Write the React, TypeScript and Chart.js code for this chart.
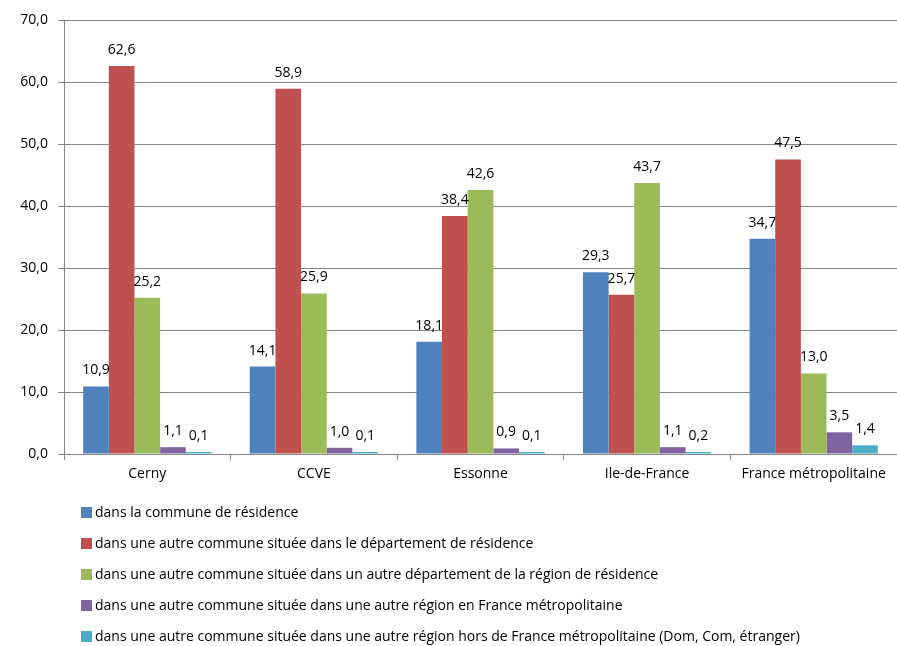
import React, { useEffect, useRef } from "react";
import { Chart, registerables } from "chart.js";

Chart.register(...registerables);

const categories = ["Cerny", "CCVE", "Essonne", "Ile-de-France", "France métropolitaine"];
const seriesLabels = [
  "dans la commune de résidence",
  "dans une autre commune située dans le département de résidence",
  "dans une autre commune située dans un autre département de la région de résidence",
  "dans une autre commune située dans une autre région en France métropolitaine",
  "dans une autre commune située dans une autre région hors de France métropolitaine (Dom, Com, étranger)",
];
const communeResidence = [10.9, 14.1, 18.1, 29.3, 34.7];
const autreCommuneDepartement = [62.6, 58.9, 38.4, 25.7, 47.5];
const autreDepartementRegion = [25.2, 25.9, 42.6, 43.7, 13.0];
const autreRegionFrance = [1.1, 1.0, 0.9, 1.1, 3.5];
const horsFrance = [0.1, 0.1, 0.1, 0.2, 1.4];
const seriesValues = [communeResidence, autreCommuneDepartement, autreDepartementRegion, autreRegionFrance, horsFrance];
const seriesColors = ["#4F81BD", "#C0504D", "#9BBB59", "#8064A2", "#4BACC6"];
const yTicks = [0, 10, 20, 30, 40, 50, 60, 70];

const FONT = "'Open Sans', sans-serif";
const fmt = (v: number) => v.toFixed(1).replace(".", ",");

const valueLabels = {
  id: "valueLabels",
  afterDatasetsDraw(chart: any) {
    const ctx = chart.ctx;
    ctx.save();
    ctx.font = `14px ${FONT}`;
    ctx.fillStyle = "#000";
    ctx.textAlign = "center";
    ctx.textBaseline = "middle";
    chart.data.datasets.forEach((ds: any, i: number) => {
      const meta = chart.getDatasetMeta(i);
      meta.data.forEach((el: any, j: number) => {
        ctx.fillText(fmt(ds.data[j]), el.x, el.y - 16);
      });
    });
    ctx.restore();
  },
};

const verticalLegend = {
  id: "verticalLegend",
  afterDraw(chart: any) {
    const ctx = chart.ctx;
    ctx.save();
    ctx.font = `14px ${FONT}`;
    ctx.textAlign = "left";
    ctx.textBaseline = "middle";
    const startY = 513;
    const step = 31;
    chart.data.datasets.forEach((ds: any, i: number) => {
      const y = startY + i * step;
      ctx.fillStyle = ds.backgroundColor;
      ctx.fillRect(81, y - 6, 11, 11);
      ctx.fillStyle = "#000";
      ctx.fillText(ds.label, 95, y);
    });
    ctx.restore();
  },
};

export default function App() {
  const ref = useRef<HTMLCanvasElement | null>(null);
  useEffect(() => {
    if (!ref.current) return;
    const chart = new Chart(ref.current, {
      type: "bar",
      data: {
        labels: categories,
        datasets: seriesValues.map((vals, i) => ({
          label: seriesLabels[i],
          data: vals,
          backgroundColor: seriesColors[i],
          borderWidth: 0,
          minBarLength: 2,
          categoryPercentage: 0.77,
          barPercentage: 1,
        })),
      },
      options: {
        responsive: false,
        animation: false,
        devicePixelRatio: 1,
        layout: { padding: { top: 20, right: 0, bottom: 141, left: 0 } },
        plugins: {
          legend: { display: false },
          tooltip: { enabled: false },
        },
        scales: {
          x: {
            afterFit: (s: any) => { s.height = 51; },
            grid: {
              offset: true,
              drawOnChartArea: false,
              drawTicks: true,
              tickLength: 6,
              color: "#868686",
            },
            border: { color: "#868686", width: 1 },
            ticks: {
              color: "#000",
              padding: 6,
              font: { family: FONT, size: 14 },
            },
          },
          y: {
            min: 0,
            max: 70,
            afterFit: (s: any) => { s.width = 64; },
            afterBuildTicks: (s: any) => { s.ticks = yTicks.map((v) => ({ value: v })); },
            grid: { color: "#868686", tickLength: 6 },
            border: { color: "#868686", width: 1 },
            ticks: {
              color: "#000",
              padding: 10,
              font: { family: FONT, size: 14 },
              callback: (v: any) => fmt(Number(v)),
            },
          },
        },
      },
      plugins: [valueLabels, verticalLegend],
    });
    return () => chart.destroy();
  }, []);
  return (
    <div style={{ position: "fixed", left: 0, top: 0, width: 897, height: 646, background: "#fff" }}>
      <canvas ref={ref} width={897} height={646} style={{ display: "block" }} />
    </div>
  );
}
